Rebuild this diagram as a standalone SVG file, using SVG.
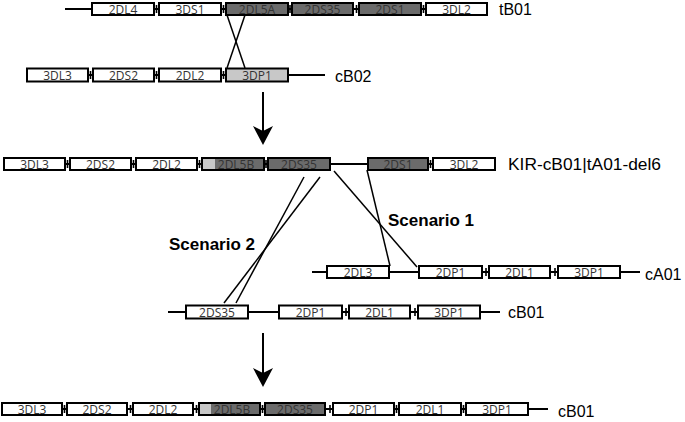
<svg xmlns="http://www.w3.org/2000/svg" width="685" height="422" viewBox="0 0 685 422">
<style>
.bb{stroke:#000;stroke-width:2;fill:none}
.tk{stroke:#000;stroke-width:1.6}
.w{fill:#fff;stroke:#000;stroke-width:2}
.d{fill:#6b6b6b;stroke:#000;stroke-width:2}
.lg{fill:#c8c8c8;stroke:none}
.t{font-family:"Open Sans","DejaVu Sans",sans-serif;font-size:12px;fill:#333;text-anchor:middle}
.lab{font-family:"Liberation Sans",Arial,sans-serif;font-size:16px;fill:#000}
.sc{font-family:"Liberation Sans",Arial,sans-serif;font-size:17px;font-weight:bold;fill:#000}
.x{stroke:#000;stroke-width:1.5;fill:none}
.ar{stroke:#000;stroke-width:2;fill:none}
</style>
<defs>
<path id="head" d="M0,0 L-10,-19 L0,-14 L10,-19 Z" fill="#000"/>
</defs>

<g id="tB01">
<line class="bb" x1="65" y1="9" x2="487" y2="9"/>
<line class="tk" x1="156.5" y1="5" x2="156.5" y2="13"/><line class="tk" x1="223.5" y1="5" x2="223.5" y2="13"/><line class="tk" x1="290" y1="5" x2="290" y2="13"/><line class="tk" x1="356.5" y1="5" x2="356.5" y2="13"/><line class="tk" x1="423.5" y1="5" x2="423.5" y2="13"/>
<rect class="w" x="92" y="3" width="62" height="12"/><text class="t" x="123" y="13.5">2DL4</text>
<rect class="w" x="159" y="3" width="62" height="12"/><text class="t" x="190" y="13.5">3DS1</text>
<rect class="d" x="226" y="3" width="62" height="12"/><text class="t" x="257" y="13.5">2DL5A</text>
<rect class="d" x="292" y="3" width="61" height="12"/><text class="t" x="322.5" y="13.5">2DS35</text>
<rect class="d" x="359" y="3" width="62" height="12"/><text class="t" x="390" y="13.5">2DS1</text>
<rect class="w" x="426" y="3" width="61" height="12"/><text class="t" x="456.5" y="13.5">3DL2</text>
<text class="lab" x="499" y="15">tB01</text>
</g>

<g id="cB02">
<line class="bb" x1="27" y1="75" x2="325" y2="75"/>
<line class="tk" x1="90.5" y1="71" x2="90.5" y2="79"/><line class="tk" x1="156.5" y1="71" x2="156.5" y2="79"/><line class="tk" x1="223.5" y1="71" x2="223.5" y2="79"/>
<rect class="w" x="27" y="68.5" width="61" height="13"/><text class="t" x="57.5" y="79.5">3DL3</text>
<rect class="w" x="93" y="68.5" width="61" height="13"/><text class="t" x="123.5" y="79.5">2DS2</text>
<rect class="w" x="159" y="68.5" width="62" height="13"/><text class="t" x="190" y="79.5">2DL2</text>
<rect x="226" y="68.5" width="62" height="13" fill="#c8c8c8" stroke="#000" stroke-width="2"/><text class="t" x="257" y="79.5">3DP1</text>
<text class="lab" x="335" y="82">cB02</text>
</g>

<g id="KIR-cB01-tA01-del6">
<line class="bb" x1="4" y1="164" x2="495" y2="164"/>
<line class="tk" x1="67.5" y1="160" x2="67.5" y2="168"/><line class="tk" x1="133.5" y1="160" x2="133.5" y2="168"/><line class="tk" x1="199.5" y1="160" x2="199.5" y2="168"/><line class="tk" x1="266" y1="160" x2="266" y2="168"/><line class="tk" x1="430.5" y1="160" x2="430.5" y2="168"/>
<rect class="w" x="4" y="158" width="61" height="12"/><text class="t" x="34.5" y="168.5">3DL3</text>
<rect class="w" x="70" y="158" width="61" height="12"/><text class="t" x="100.5" y="168.5">2DS2</text>
<rect class="w" x="136" y="158" width="61" height="12"/><text class="t" x="166.5" y="168.5">2DL2</text>
<rect class="d" x="202" y="158" width="62" height="12"/><rect class="lg" x="203" y="159" width="12" height="10"/><text class="t" x="236" y="168.5">2DL5B</text>
<rect class="d" x="268" y="158" width="62" height="12"/><text class="t" x="299" y="168.5">2DS35</text>
<rect class="d" x="368" y="158" width="60" height="12"/><text class="t" x="398" y="168.5">2DS1</text>
<rect class="w" x="433" y="158" width="62" height="12"/><text class="t" x="464" y="168.5">3DL2</text>
<text class="lab" x="508" y="170" font-size="17" textLength="153" lengthAdjust="spacingAndGlyphs">KIR-cB01|tA01-del6</text>
</g>

<g id="cA01">
<line class="bb" x1="312" y1="272" x2="640" y2="272"/>
<line class="tk" x1="486" y1="268" x2="486" y2="276"/><line class="tk" x1="555" y1="268" x2="555" y2="276"/>
<rect class="w" x="327" y="266" width="62" height="12"/><text class="t" x="358" y="276.5">2DL3</text>
<rect class="w" x="419" y="266" width="63" height="12"/><text class="t" x="450.5" y="276.5">2DP1</text>
<rect class="w" x="489" y="266" width="61" height="12"/><text class="t" x="519.5" y="276.5">2DL1</text>
<rect class="w" x="558" y="266" width="62" height="12"/><text class="t" x="589" y="276.5">3DP1</text>
<text class="lab" x="645" y="280">cA01</text>
</g>

<g id="cB01-mid">
<line class="bb" x1="168" y1="312" x2="500" y2="312"/>
<line class="tk" x1="346" y1="308" x2="346" y2="316"/><line class="tk" x1="415" y1="308" x2="415" y2="316"/>
<rect class="w" x="186" y="305.5" width="62" height="13"/><text class="t" x="217" y="316.5">2DS35</text>
<rect class="w" x="279" y="305.5" width="63" height="13"/><text class="t" x="310.5" y="316.5">2DP1</text>
<rect class="w" x="349" y="305.5" width="61" height="13"/><text class="t" x="379.5" y="316.5">2DL1</text>
<rect class="w" x="418" y="305.5" width="62" height="13"/><text class="t" x="449" y="316.5">3DP1</text>
<text class="lab" x="508" y="318">cB01</text>
</g>

<g id="cB01-final">
<line class="bb" x1="2" y1="409" x2="548" y2="409"/>
<line class="tk" x1="64.5" y1="405" x2="64.5" y2="413"/><line class="tk" x1="130.5" y1="405" x2="130.5" y2="413"/><line class="tk" x1="196.5" y1="405" x2="196.5" y2="413"/><line class="tk" x1="262.5" y1="405" x2="262.5" y2="413"/><line class="tk" x1="330" y1="405" x2="330" y2="413"/><line class="tk" x1="396.5" y1="405" x2="396.5" y2="413"/><line class="tk" x1="463.5" y1="405" x2="463.5" y2="413"/>
<rect class="w" x="2" y="403" width="60" height="12"/><text class="t" x="32" y="413.5">3DL3</text>
<rect class="w" x="67" y="403" width="60" height="12"/><text class="t" x="97" y="413.5">2DS2</text>
<rect class="w" x="133" y="403" width="60" height="12"/><text class="t" x="163" y="413.5">2DL2</text>
<rect class="d" x="199" y="403" width="61" height="12"/><rect class="lg" x="200" y="404" width="11" height="10"/><text class="t" x="232" y="413.5">2DL5B</text>
<rect class="d" x="265" y="403" width="60" height="12"/><text class="t" x="295" y="413.5">2DS35</text>
<rect class="w" x="333" y="403" width="61" height="12"/><text class="t" x="363.5" y="413.5">2DP1</text>
<rect class="w" x="399" y="403" width="62" height="12"/><text class="t" x="430" y="413.5">2DL1</text>
<rect class="w" x="466" y="403" width="62" height="12"/><text class="t" x="497" y="413.5">3DP1</text>
<text class="lab" x="558" y="417">cB01</text>
</g>

<g id="connectors">
<line class="x" x1="227" y1="15" x2="245" y2="68"/>
<line class="x" x1="245" y1="15" x2="227" y2="68"/>
<line class="ar" x1="263" y1="92" x2="263" y2="133"/>
<use href="#head" x="263" y="145"/>
<line class="x" x1="304" y1="177" x2="236" y2="303"/>
<line class="x" x1="320" y1="177" x2="224" y2="303"/>
<line class="x" x1="334" y1="171" x2="417" y2="267"/>
<line class="x" x1="367" y1="170" x2="390" y2="266"/>
<line class="ar" x1="263" y1="333" x2="263" y2="375"/>
<use href="#head" x="263" y="387"/>
</g>

<text class="sc" x="169" y="250">Scenario 2</text>
<text class="sc" x="388" y="226">Scenario 1</text>
</svg>
